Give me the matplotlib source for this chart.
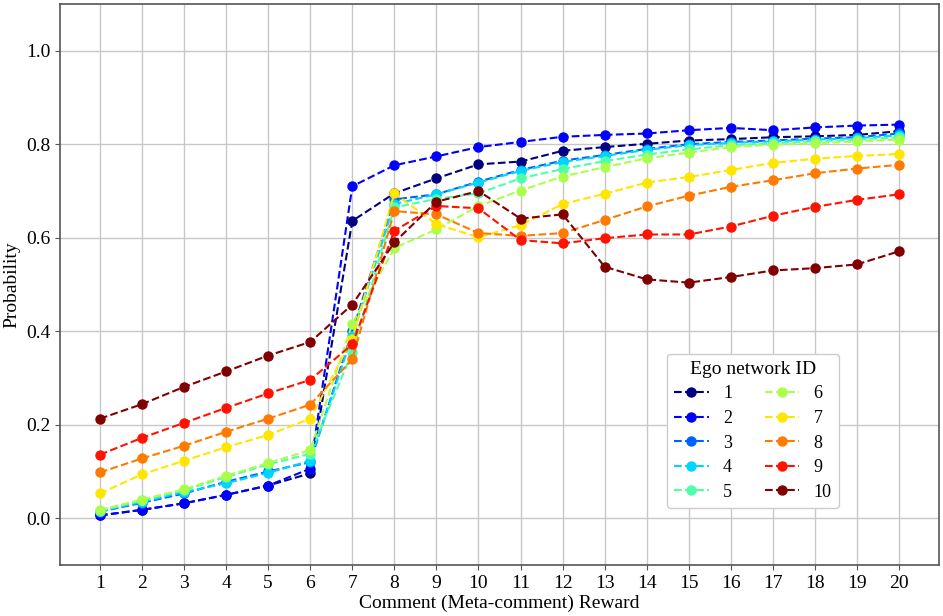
import numpy as np
import matplotlib
matplotlib.use("Agg")
import matplotlib.pyplot as plt

rewards = list(range(1, 21))
series_ids = ["1", "2", "3", "4", "5", "6", "7", "8", "9", "10"]

s1 = [0.006, 0.018, 0.032, 0.050, 0.070, 0.096, 0.636, 0.695, 0.727, 0.757,
      0.763, 0.786, 0.794, 0.801, 0.808, 0.811, 0.815, 0.817, 0.820, 0.828]
s2 = [0.006, 0.018, 0.032, 0.050, 0.070, 0.106, 0.710, 0.755, 0.774, 0.794,
      0.805, 0.816, 0.820, 0.823, 0.830, 0.835, 0.830, 0.836, 0.840, 0.842]
s3 = [0.014, 0.033, 0.053, 0.078, 0.100, 0.120, 0.400, 0.682, 0.693, 0.720,
      0.745, 0.765, 0.777, 0.790, 0.800, 0.805, 0.808, 0.812, 0.815, 0.823]
s4 = [0.015, 0.035, 0.056, 0.075, 0.097, 0.123, 0.390, 0.672, 0.693, 0.718,
      0.743, 0.762, 0.775, 0.788, 0.798, 0.803, 0.806, 0.810, 0.813, 0.819]
s5 = [0.016, 0.038, 0.060, 0.088, 0.115, 0.138, 0.356, 0.665, 0.683, 0.695,
      0.727, 0.747, 0.764, 0.778, 0.789, 0.798, 0.802, 0.806, 0.810, 0.815]
s6 = [0.018, 0.040, 0.062, 0.091, 0.118, 0.146, 0.416, 0.578, 0.618, 0.668,
      0.701, 0.731, 0.751, 0.770, 0.782, 0.794, 0.799, 0.802, 0.806, 0.810]
s7 = [0.053, 0.094, 0.123, 0.152, 0.178, 0.213, 0.384, 0.695, 0.629, 0.601,
      0.627, 0.672, 0.694, 0.718, 0.730, 0.745, 0.760, 0.769, 0.775, 0.779]
s8 = [0.098, 0.128, 0.155, 0.185, 0.213, 0.243, 0.340, 0.657, 0.650, 0.610,
      0.604, 0.610, 0.638, 0.667, 0.690, 0.709, 0.723, 0.738, 0.748, 0.756]
s9 = [0.136, 0.172, 0.204, 0.236, 0.267, 0.296, 0.372, 0.615, 0.668, 0.663,
      0.595, 0.588, 0.599, 0.607, 0.607, 0.624, 0.647, 0.666, 0.681, 0.693]
s10 = [0.213, 0.244, 0.281, 0.314, 0.348, 0.377, 0.457, 0.590, 0.677, 0.700,
       0.641, 0.650, 0.538, 0.511, 0.504, 0.516, 0.530, 0.535, 0.543, 0.571]

series = [s1, s2, s3, s4, s5, s6, s7, s8, s9, s10]
yticks = [0.0, 0.2, 0.4, 0.6, 0.8, 1.0]

plt.rcParams['font.family'] = ['Liberation Serif', 'DejaVu Serif']

fig = plt.figure(figsize=(9.43, 6.16), dpi=100)
ax = fig.add_axes([0.0636, 0.0828, 0.9322, 0.9107])

colors = plt.cm.jet(np.linspace(0, 1, len(series)))
for vals, lab, c in zip(series, series_ids, colors):
    ax.plot(rewards, vals, linestyle='--', marker='o', color=c, label=lab,
            linewidth=1.5, markersize=6.5)

ax.set_xlim(0.05, 20.95)
ax.set_ylim(-0.1, 1.1)
ax.set_xticks(rewards)
ax.set_yticks(yticks)
ax.set_yticklabels([f"{v:.1f}" for v in yticks])
ax.tick_params(labelsize=14, color='#555555')
ax.grid(True, color='#c8c8c8', linewidth=1.0)
ax.set_axisbelow(True)
for sp in ax.spines.values():
    sp.set_color('#555555')
    sp.set_linewidth(1.2)

ax.set_xlabel("Comment (Meta-comment) Reward", fontsize=14, labelpad=2)
ax.set_ylabel("Probability", fontsize=14, labelpad=4)

leg = ax.legend(title="Ego network ID", ncol=2, fontsize=13, title_fontsize=14,
                loc='lower left', bbox_to_anchor=(0.6906, 0.1016),
                borderaxespad=0.0,
                handlelength=1.9, handletextpad=0.8, columnspacing=1.8,
                labelspacing=0.42, framealpha=1.0, edgecolor='#cccccc')

fig.savefig("out.png", dpi=100)
